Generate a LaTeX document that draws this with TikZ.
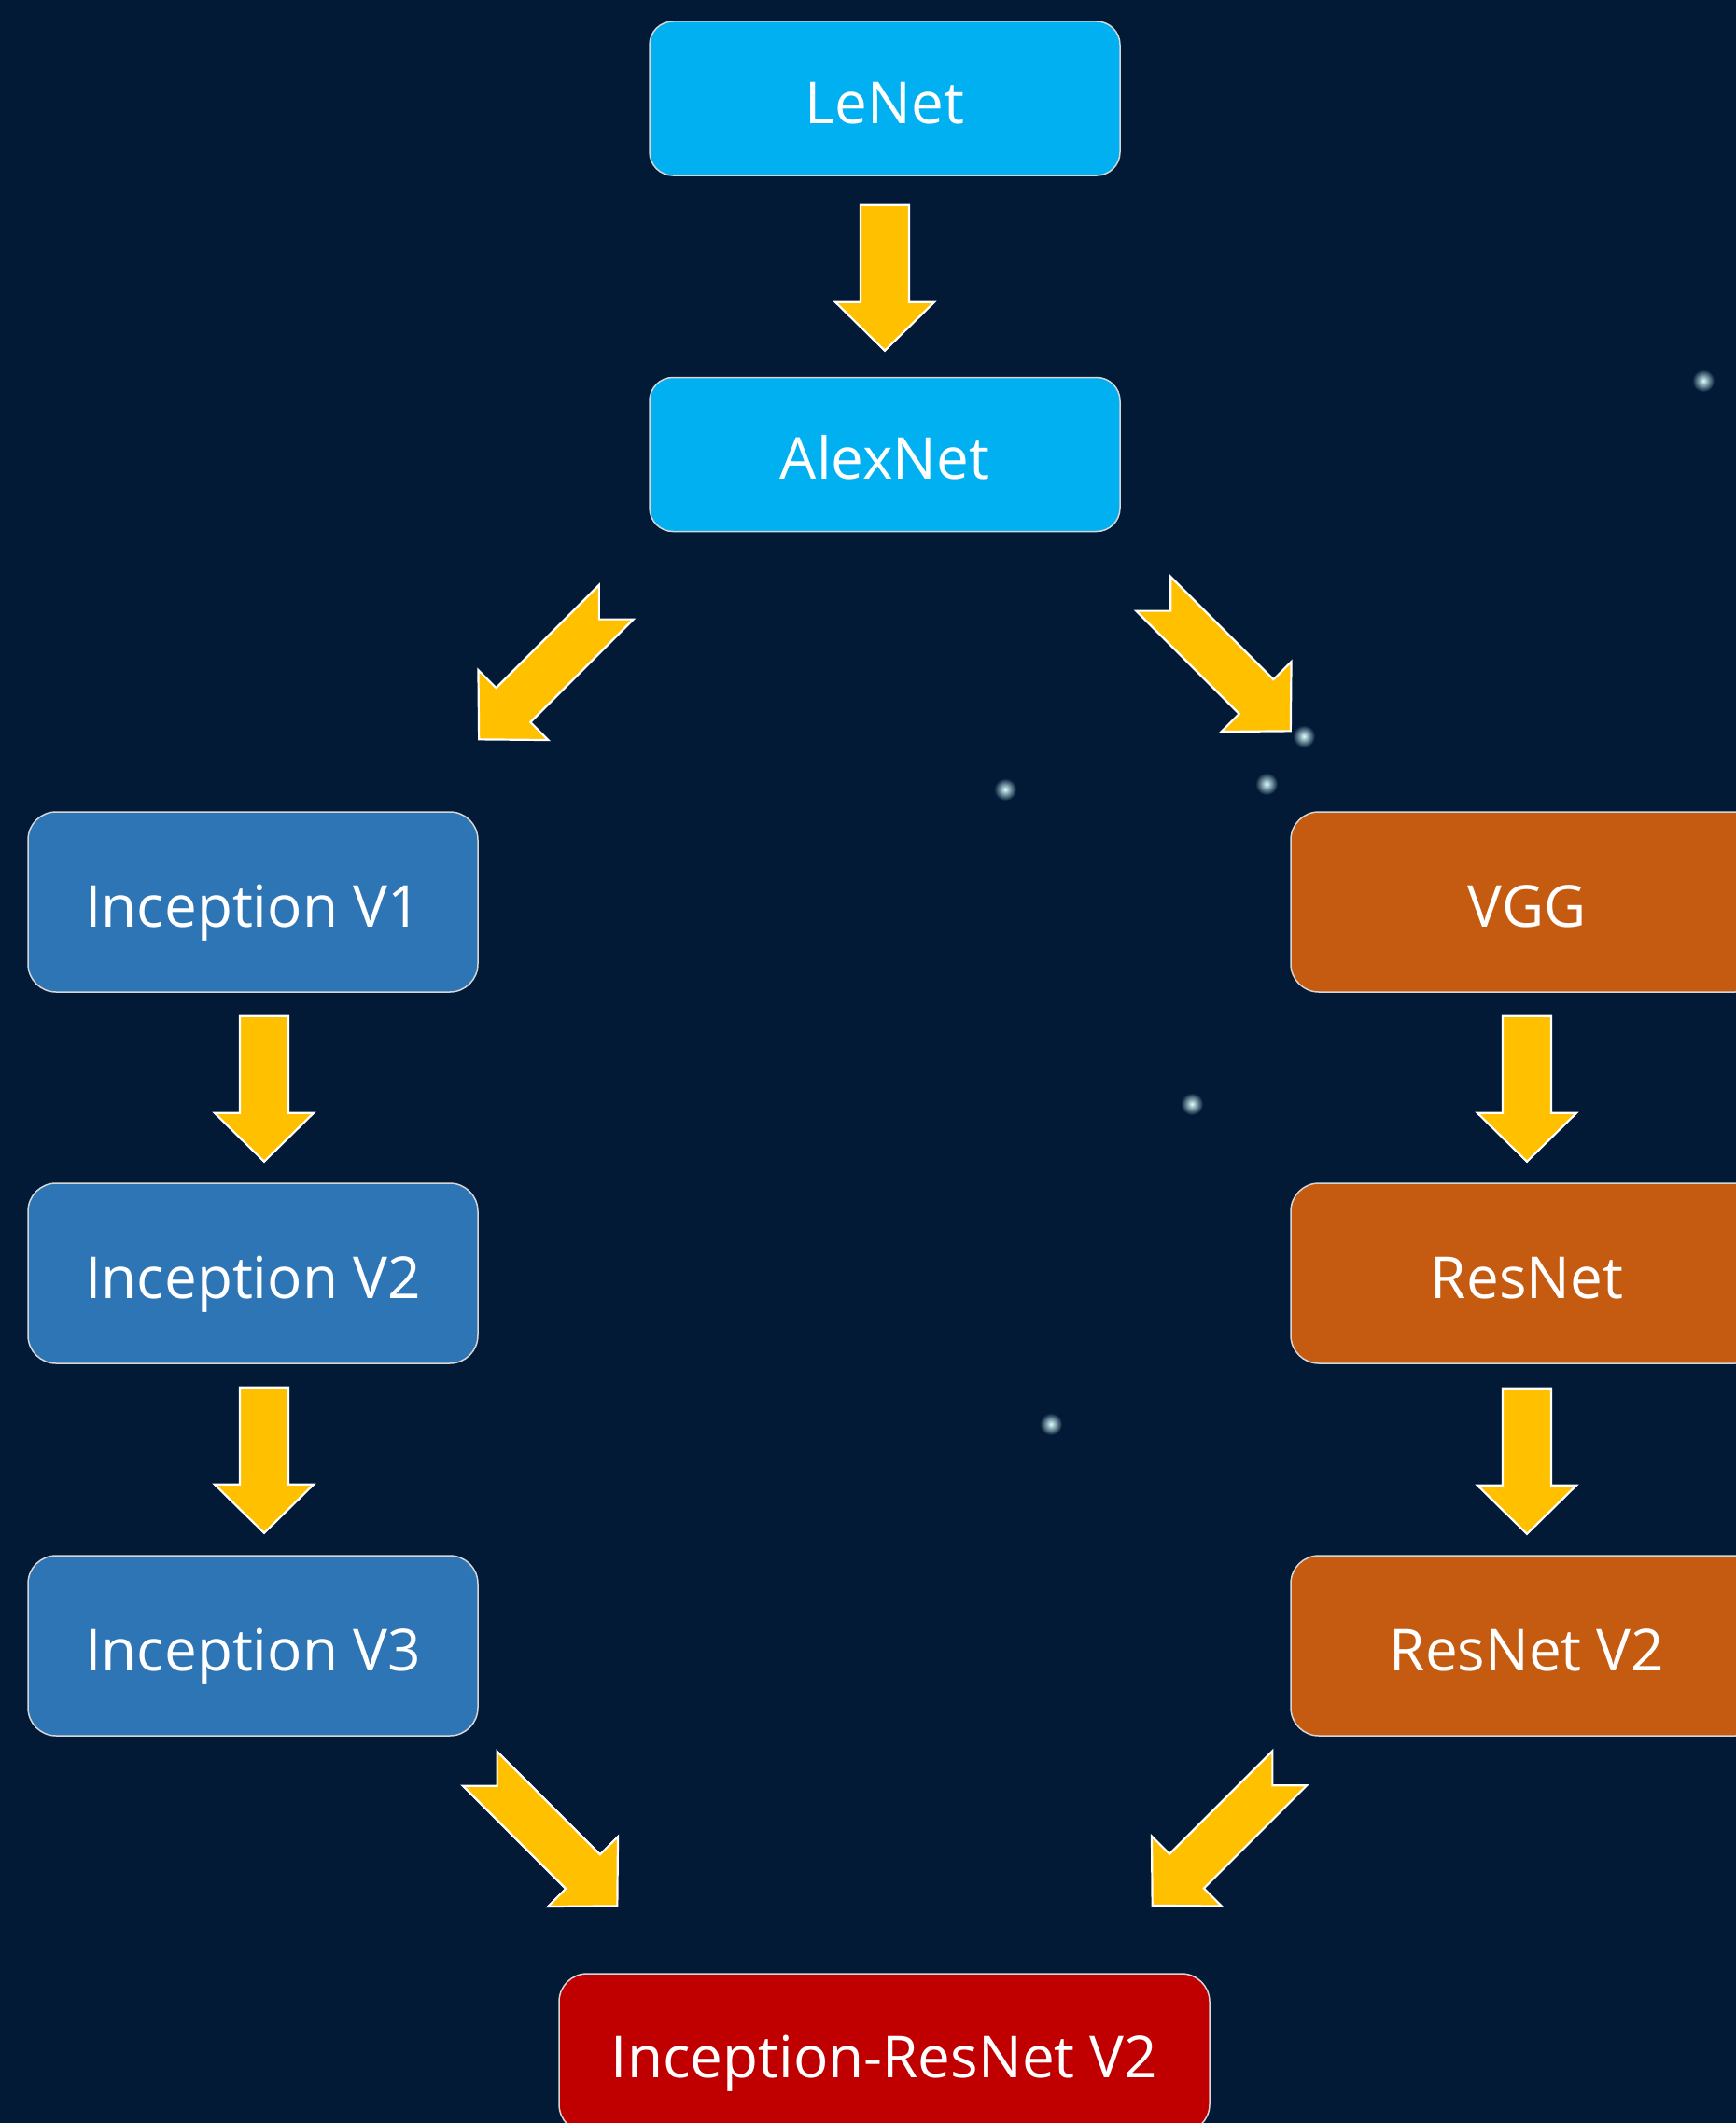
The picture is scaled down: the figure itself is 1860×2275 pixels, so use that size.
\documentclass[tikz,border=0pt]{standalone}
\usepackage{fontspec}
\setmainfont{Open Sans}
\usepackage{tikz}
\usetikzlibrary{positioning, calc}

\definecolor{bgnavy}{HTML}{021A36}
\definecolor{earlyblue}{HTML}{00B0F0}
\definecolor{incblue}{HTML}{2E75B6}
\definecolor{resorange}{HTML}{C55A11}
\definecolor{finred}{HTML}{C00000}
\definecolor{arrowgold}{HTML}{FFC000}
\definecolor{boxline}{HTML}{D6D6D6}

% block arrow: tail coordinate, angle, length, tail notch
\newcommand{\fatarrow}[4]{%
  \begin{scope}[shift={(#1)}, rotate=#2]
    \draw[fat] (0,26) -- ({#3-52},26) -- ({#3-52},53) -- (#3,0) -- ({#3-52},-53)
      -- ({#3-52},-26) -- (0,-26) -- (#4,0) -- cycle;
  \end{scope}}

\begin{document}
\begin{tikzpicture}[
      x=1pt, y=-1pt,
      netbox/.style={draw=boxline, line width=1.5pt, rounded corners=30pt, text=white, inner sep=0pt,
        text height=53pt, text depth=0pt, font=\fontsize{62}{74}\selectfont},
      earlybox/.style={netbox, fill=earlyblue, minimum width=504pt, minimum height=165pt, rounded corners=25pt},
      incbox/.style={netbox, fill=incblue, minimum width=482pt, minimum height=193pt},
      resbox/.style={netbox, fill=resorange, minimum width=506pt, minimum height=193pt},
      finbox/.style={netbox, fill=finred, minimum width=697pt, minimum height=170pt},
      fat/.style={fill=arrowgold, draw=white, line width=2.2pt, line join=miter}
    ]
    \useasboundingbox (0,0) rectangle (1860,2275);
    \clip (0,0) rectangle (1860,2275);
    \fill[bgnavy] (0,0) rectangle (1860,2275);
    % stars in the background
    \foreach \sx/\sy in {1077/846, 1357/840, 1397/789, 1277/1183, 1126/1526, 1825/408}
      \shade[inner color=white!85!cyan, outer color=bgnavy] (\sx,\sy) circle (12pt);

    \node[earlybox] (lenet) at (948,105.5) {LeNet};
    \node[earlybox] (alexnet) at (948,487) {AlexNet};
    \foreach \i/\y in {1/966.5, 2/1364.5, 3/1763.5}
      \node[incbox] (incv\i) at (271,\y) {Inception V\i};
    \node[resbox] (vgg) at (1636,966.5) {VGG};
    \node[resbox] (resnet) at (1636,1364.5) {ResNet};
    \node[resbox] (resnetv2) at (1636,1763.5) {ResNet V2};
    \node[finbox] (incres) at (947.5,2200) {Inception-ResNet V2};

    % arrows
    \coordinate (t0) at ([yshift=-31pt]lenet.south);
    \coordinate (t1) at ([xshift=12pt, yshift=-25pt]incv1.south);
    \coordinate (t2) at ([xshift=12pt, yshift=-25pt]incv2.south);
    \coordinate (t3) at ([yshift=-25pt]vgg.south);
    \coordinate (t4) at ([yshift=-26pt]resnet.south);
    \coordinate (d1) at ([xshift=-35pt, yshift=-75pt]alexnet.south west);
    \coordinate (d2) at ([xshift=35pt, yshift=-66pt]alexnet.south east);
    \coordinate (d3) at ([xshift=1.5pt, yshift=-34.5pt]incv3.south east);
    \coordinate (d4) at ([xshift=-0.5pt, yshift=-34pt]resnetv2.south west);
    \foreach \t in {t0, t1, t2, t3, t4} {
      \fatarrow{\t}{-90}{156}{0}
    }
    \fatarrow{d1}{-135}{208}{26}
    \fatarrow{d2}{-45}{208}{26}
    \fatarrow{d3}{-45}{208}{26}
    \fatarrow{d4}{-135}{208}{26}
  \end{tikzpicture}
\end{document}
